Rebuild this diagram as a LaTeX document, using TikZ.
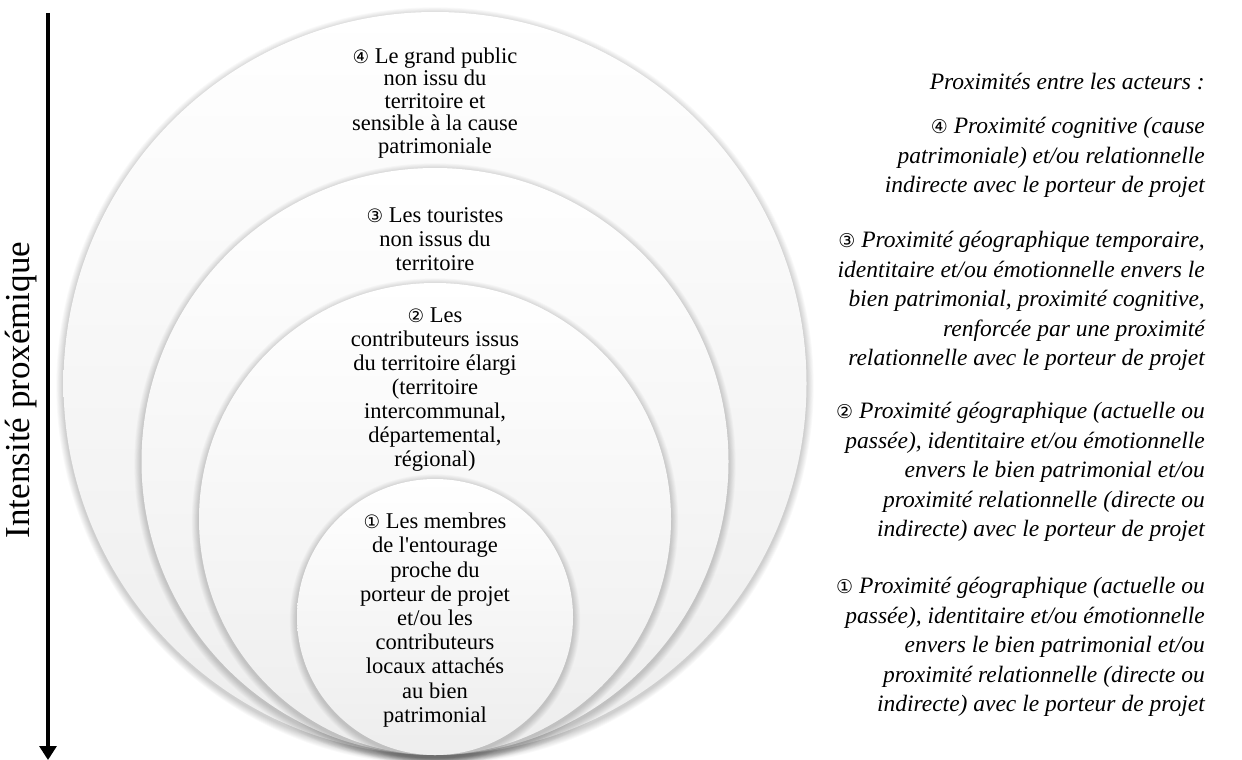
\documentclass[tikz,border=0pt]{standalone}
\usepackage{fontspec}
\setmainfont{Liberation Serif}
\newfontfamily\dejavu{DejaVu Sans}
\usetikzlibrary{arrows.meta}
\newcommand\cnum[1]{{\dejavu\fontsize{18.5}{18}\selectfont #1}}
\newcommand\inum[1]{{\dejavu\itshape\fontsize{19}{19}\selectfont #1}}
\newcommand\proxcircle[3]{%
  \foreach \i in {8,...,1}{%
    \fill[black,opacity=0.022] (#1,#2+2.5) circle[radius=#3pt+\i*0.9pt];}%
  \shade[top color=white,bottom color=black!7] (#1,#2) circle[radius=#3pt];%
}
\begin{document}
\begin{tikzpicture}[x=1pt,y=-1pt,
  ctext/.style={align=center,inner sep=0pt,font=\fontsize{22.5}{23.5}\selectfont},
  rtext/.style={align=right,inner sep=0pt,anchor=east,font=\itshape\fontsize{23.5}{29.5}\selectfont},
  axislabel/.style={inner sep=0pt,rotate=90,font=\fontsize{35}{35}\selectfont}
]
\useasboundingbox (0,0) rectangle (1242,760);
\fill[white] (0,0) rectangle (1242,760);

% circles (outer to inner)
\proxcircle{435}{383.5}{371.5}
\proxcircle{435}{461.5}{293.5}
\proxcircle{435}{519}{236}
\proxcircle{435}{617}{138}

% circle texts
\node[ctext,font=\fontsize{22.5}{22.5}\selectfont] (t4) at (435,103)
  {\cnum{④} Le grand public\\non issu du\\territoire et\\sensible à la cause\\patrimoniale};
\node[ctext,font=\fontsize{22.5}{24}\selectfont] (t3) at (435,239)
  {\cnum{③} Les touristes\\non issus du\\territoire};
\node[ctext,font=\fontsize{22.5}{24}\selectfont] (t2) at (435,390)
  {\cnum{②} Les\\contributeurs issus\\du territoire élargi\\(territoire\\intercommunal,\\départemental,\\régional)};
\node[ctext,font=\fontsize{22.5}{24.2}\selectfont] (t1) at (435,620)
  {\cnum{①} Les membres\\de l\textquotesingle entourage\\proche du\\porteur de projet\\et/ou les\\contributeurs\\locaux attachés\\au bien\\patrimonial};

% axis
\coordinate (atop) at (48,13);
\coordinate (abot) at (48,760);
\draw[line width=3.2pt,-{Triangle[width=17pt,length=14pt]}] (atop) -- (abot);
\node[axislabel] (axl) at (21,390) {Intensité proxémique};

% right texts
\node[rtext] (hdr) at (1205,82) {Proximités entre les acteurs :};
\node[rtext] (r4) at (1205,157.5)
  {\inum{④} Proximité cognitive (cause\\patrimoniale) et/ou relationnelle\\indirecte avec le porteur de projet};
\node[rtext] (r3) at (1205,301)
  {\inum{③} Proximité géographique temporaire,\\identitaire et/ou émotionnelle envers le\\bien patrimonial, proximité cognitive,\\renforcée par une proximité\\relationnelle avec le porteur de projet};
\node[rtext] (r2) at (1205,472)
  {\inum{②} Proximité géographique (actuelle ou\\passée), identitaire et/ou émotionnelle\\envers le bien patrimonial et/ou\\proximité relationnelle (directe ou\\indirecte) avec le porteur de projet};
\node[rtext] (r1) at (1205,647)
  {\inum{①} Proximité géographique (actuelle ou\\passée), identitaire et/ou émotionnelle\\envers le bien patrimonial et/ou\\proximité relationnelle (directe ou\\indirecte) avec le porteur de projet};
\end{tikzpicture}
\end{document}
